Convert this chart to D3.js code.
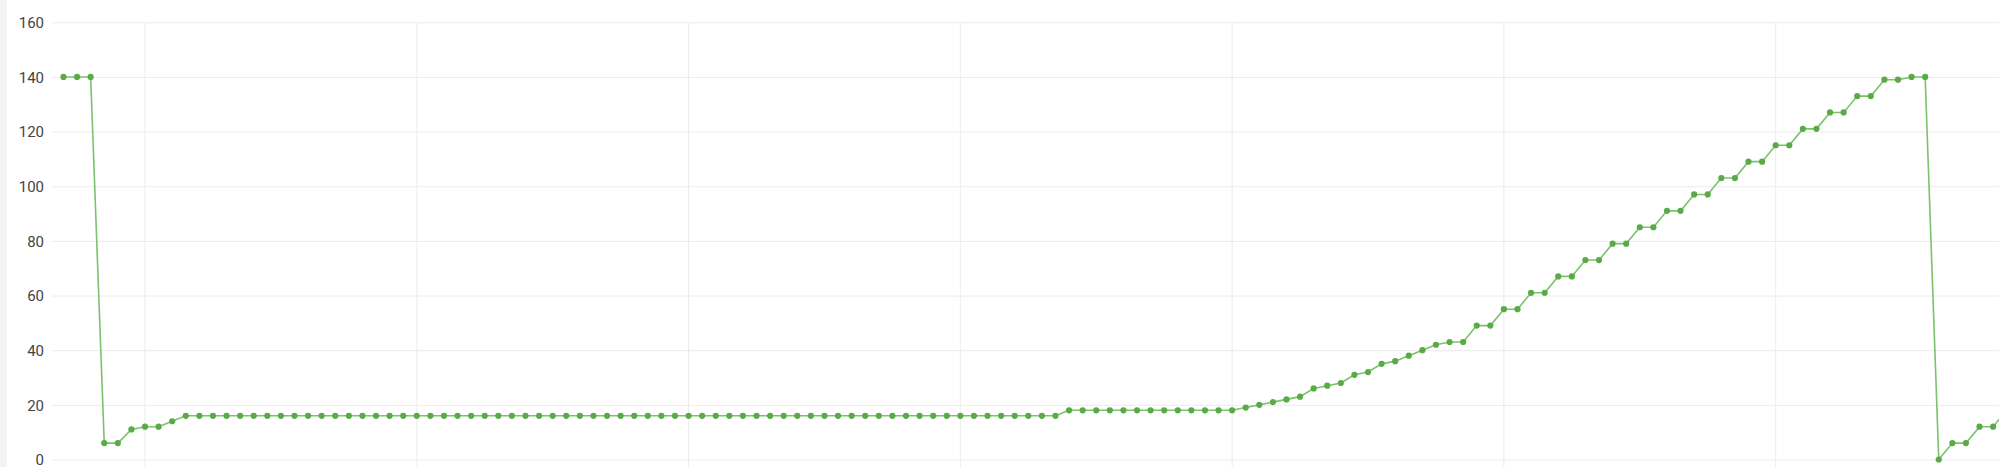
<!DOCTYPE html>
<html>
<head>
<meta charset="utf-8">
<script src="https://cdn.jsdelivr.net/npm/d3@7"></script>
<style>
  html, body { margin: 0; padding: 0; background: #fff; overflow: hidden; }
  svg { display: block; }
  text { font-family: Roboto, "Noto Sans", sans-serif; }
</style>
</head>
<body>
<svg id="chart" width="1999" height="467"></svg>
<script>
// ---- data ----
const values = [
  140, 140, 140, 6, 6, 11, 12, 12, 14, 16,
  16, 16, 16, 16, 16, 16, 16, 16, 16, 16,
  16, 16, 16, 16, 16, 16, 16, 16, 16, 16,
  16, 16, 16, 16, 16, 16, 16, 16, 16, 16,
  16, 16, 16, 16, 16, 16, 16, 16, 16, 16,
  16, 16, 16, 16, 16, 16, 16, 16, 16, 16,
  16, 16, 16, 16, 16, 16, 16, 16, 16, 16,
  16, 16, 16, 16, 18, 18, 18, 18, 18, 18,
  18, 18, 18, 18, 18, 18, 18, 19, 20, 21,
  22, 23, 26, 27, 28, 31, 32, 35, 36, 38,
  40, 42, 43, 43, 49, 49, 55, 55, 61, 61,
  67, 67, 73, 73, 79, 79, 85, 85, 91, 91,
  97, 97, 103, 103, 109, 109, 115, 115, 121, 121,
  127, 127, 133, 133, 139, 139, 140, 140, 0, 6,
  6, 12, 12, 18
];
const yTicks = [0, 20, 40, 60, 80, 100, 120, 140, 160];
const xGridIdx = [6, 26, 46, 66, 86, 106, 126];

// ---- layout ----
const W = 1999, H = 467;
const plotLeft = 52;
const step = 13.589;
const x0 = 63.47;
const svg = d3.select("#chart");

const x = d3.scaleLinear().domain([0, values.length - 1]).range([x0, x0 + (values.length - 1) * step]);
const y = d3.scaleLinear().domain([0, 160]).range([459.5, 22.3]);

// left panel stripe
svg.append("rect").attr("x", 0).attr("y", 0).attr("width", 7).attr("height", H).attr("fill", "#f3f3f3");

// vertical grid
svg.append("g").selectAll("line").data(xGridIdx).join("line")
  .attr("x1", d => x(d)).attr("x2", d => x(d))
  .attr("y1", y(160)).attr("y2", H)
  .attr("stroke", "#ececec").attr("stroke-width", 1);

// y axis with horizontal grid
const yAxis = d3.axisLeft(y).tickValues(yTicks).tickSize(-(W - plotLeft)).tickPadding(8);
const gy = svg.append("g").attr("transform", `translate(${plotLeft},0)`).call(yAxis);
gy.select(".domain").remove();
gy.selectAll(".tick line").attr("stroke", "#ebebeb").attr("stroke-width", 1);
gy.selectAll(".tick text").attr("fill", "#444").style("font-size", "15px").attr("dy", "0.35em");

// line
const line = d3.line().x((d, i) => x(i)).y(d => y(d));
svg.append("path").datum(values)
  .attr("d", line)
  .attr("fill", "none")
  .attr("stroke", "#7cc26d")
  .attr("stroke-width", 1.6);

// points
svg.append("g").selectAll("circle").data(values).join("circle")
  .attr("cx", (d, i) => x(i)).attr("cy", d => y(d))
  .attr("r", 3.1)
  .attr("fill", "#5aab47");
</script>
</body>
</html>
